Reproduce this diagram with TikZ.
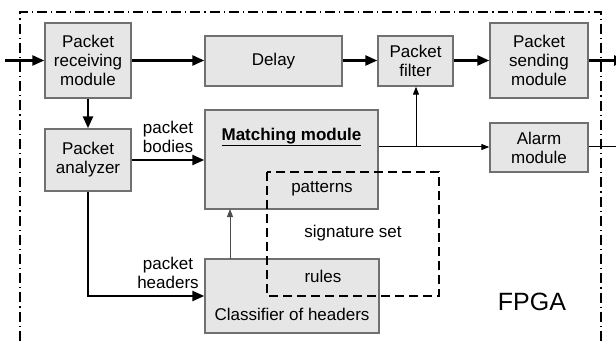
\documentclass[tikz,border=0pt]{standalone}
\usepackage{fontspec}
\setmainfont{Liberation Sans}
\usetikzlibrary{arrows.meta}
\definecolor{boxfill}{HTML}{E6E6E6}
\definecolor{boxline}{HTML}{707070}
\tikzset{
  blk/.style={draw=boxline, line width=1.4pt, fill=boxfill, inner sep=0pt, align=center,
    font=\fontsize{17}{19}\selectfont},
  lbl/.style={inner sep=0pt, align=center, font=\fontsize{17}{19}\selectfont},
  thick arrow/.style={line width=2.4pt, -{Triangle[length=12pt,width=10pt]}},
  thin arrow/.style={line width=1pt, -{Triangle[length=8pt,width=6pt]}},
  thin gray arrow/.style={line width=1pt, draw=black!70, -{Triangle[length=8pt,width=6pt]}},
  frame/.style={line width=1.3pt, dash pattern=on 10pt off 4pt on 1.2pt off 4pt},
  sigbox/.style={line width=1.5pt, dash pattern=on 9pt off 5pt}
}
\begin{document}
\begin{tikzpicture}[x=1pt,y=-1pt]
\useasboundingbox (0,0) rectangle (616,342);
% frame
\draw[frame] (20,360) -- (20,12) -- (601,12) -- (601,360);
% boxes
\node[blk, minimum width=86pt, minimum height=75pt] (recv) at (88,60.5) {Packet\\receiving\\module};
\node[blk, minimum width=137pt, minimum height=50pt] (delay) at (273.5,61) {Delay};
\node[blk, minimum width=75pt, minimum height=50pt] (filter) at (415.5,61) {Packet\\filter};
\node[blk, minimum width=98pt, minimum height=75pt] (send) at (539,60.5) {Packet\\sending\\module};
\node[blk, minimum width=98pt, minimum height=49pt] (alarm) at (539,147.5) {Alarm\\module};
\node[blk, minimum width=86pt, minimum height=62pt] (anal) at (88,160) {Packet\\analyzer};
\node[blk, minimum width=173pt, minimum height=99pt] (match) at (291.5,159.5) {};
\node[blk, minimum width=174pt, minimum height=74pt] (cls) at (292,296) {};
% texts in boxes
\node[lbl, font=\fontsize{17}{19}\selectfont\bfseries] (mtitle) at (291.5,137) {\underline{Matching module}};
\node[lbl] (pat) at (322,189) {patterns};
\node[lbl] (rules) at (323,276) {rules};
\node[lbl] (clstext) at (292,314) {Classifier of headers};
\node[lbl] (sigtext) at (353,233) {signature set};
\node[lbl, font=\fontsize{25}{27}\selectfont] (fpga) at (532,302) {FPGA};
% signature set dashed box
\draw[sigbox] (267,172) rectangle (439,296);
% labels
\node[lbl] (bodies) at (168,136.5) {packet\\bodies};
\node[lbl] (headers) at (168,273) {packet\\headers};
% coordinates
\coordinate (in) at (5,60.5);
\coordinate (out1) at (626,60.5);
\coordinate (out2) at (626,147);
\coordinate (br) at (416,147);
% thick arrows
\draw[thick arrow] (in) -- (recv.west);
\draw[thick arrow] (recv.east) -- (delay.west |- recv.east);
\draw[thick arrow] (delay.east |- recv.east) -- (filter.west |- recv.east);
\draw[thick arrow] (filter.east |- recv.east) -- (send.west);
\draw[thick arrow] (send.east) -- (out1);
\draw[thick arrow] (recv.south) -- (anal.north);
\draw[thick arrow] (anal.east) -- (match.west |- anal.east);
\draw[thick arrow] (anal.south) |- (cls.west);
% thin arrows
\draw[thin gray arrow] (230,259) -- (230,209);
\draw[line width=1pt] (match.east |- br) -- (br);
\draw[thin arrow] (br) -- (alarm.west |- br);
\draw[thin arrow] (br) -- (filter.south -| br);
\draw[thin arrow] (alarm.east |- br) -- (out2);
\end{tikzpicture}
\end{document}
